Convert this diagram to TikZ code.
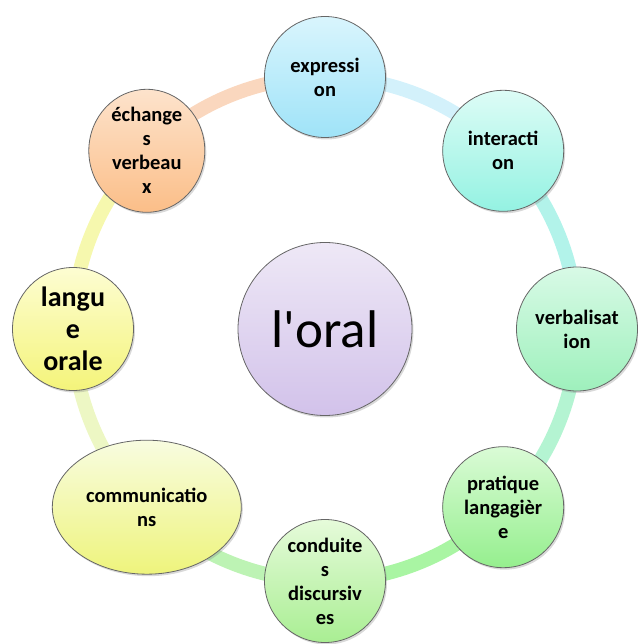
\documentclass[tikz,border=0pt]{standalone}
\usepackage{fontspec}
\setmainfont{Carlito}
\usetikzlibrary{shapes.geometric,shadows,backgrounds}

\definecolor{oralhaut}{HTML}{EEE8F6}
\definecolor{oralbas}{HTML}{D2C2EA}
\definecolor{exphaut}{HTML}{D9F5FD}
\definecolor{expbas}{HTML}{9FE3F8}
\definecolor{inthaut}{HTML}{DDFCF6}
\definecolor{intbas}{HTML}{94F2E2}
\definecolor{verbhaut}{HTML}{D8FAE6}
\definecolor{verbbas}{HTML}{9EF0BC}
\definecolor{prathaut}{HTML}{DAFBD6}
\definecolor{pratbas}{HTML}{95EF8E}
\definecolor{condhaut}{HTML}{E6FBDA}
\definecolor{condbas}{HTML}{A9EE93}
\definecolor{commhaut}{HTML}{F8FCE0}
\definecolor{commbas}{HTML}{EEF47C}
\definecolor{languehaut}{HTML}{FDFDD2}
\definecolor{languebas}{HTML}{F4F47A}
\definecolor{echhaut}{HTML}{FDE3CC}
\definecolor{echbas}{HTML}{FBBE88}

\begin{document}
\begin{tikzpicture}[x=1pt,y=1pt,
    bulle/.style={ellipse, draw=black!60, line width=0.8pt, inner sep=0pt,
      align=center, minimum width=121pt, minimum height=121pt,
      font=\bfseries\fontsize{20.5}{24}\selectfont,
      drop shadow={opacity=0.3, shadow xshift=1.5pt, shadow yshift=-2pt}},
    anneau/.style={line width=14pt}]
  \useasboundingbox (-325,-315) rectangle (312,329);
  \node [bulle, minimum width=174pt, minimum height=173pt,
    top color=oralhaut, bottom color=oralbas,
    font=\fontsize{53}{60}\selectfont] (oral) at (0,0) {l\textquotesingle oral};
  \node [bulle, top color=exphaut, bottom color=expbas] (expression) at (90:252) {expressi\\on};
  \node [bulle, top color=inthaut, bottom color=intbas] (interaction) at (45:252) {interacti\\on};
  \node [bulle, minimum height=124pt, top color=verbhaut, bottom color=verbbas] (verbalisation) at (0:252) {verbalisat\\ion};
  \node [bulle, top color=prathaut, bottom color=pratbas] (pratique) at (-45:252) {pratique\\langagièr\\e};
  \node [bulle, minimum height=123pt, top color=condhaut, bottom color=condbas] (conduites) at (-90:252) {conduite\\s\\discursiv\\es};
  \node [bulle, minimum width=189pt, minimum height=134pt,
    top color=commhaut, bottom color=commbas] (communications) at (-135:252) {communicatio\\ns};
  \node [bulle, minimum height=123pt, top color=languehaut, bottom color=languebas,
    font=\bfseries\fontsize{28}{32}\selectfont] (langue) at (180:252) {langu\\e\\orale};
  \node [bulle, minimum width=116pt, minimum height=123pt,
    top color=echhaut, bottom color=echbas] (echanges) at (135:252) {échange\\s\\verbeau\\x};
  \begin{scope}[on background layer]
    \draw [anneau, color={rgb,255:red,250;green,215;blue,190}] (echanges.center) arc [radius=252, start angle=135, end angle=90];
    \draw [anneau, color={rgb,255:red,211;green,241;blue,251}] (expression.center) arc [radius=252, start angle=90, end angle=45];
    \draw [anneau, color={rgb,255:red,178;green,243;blue,234}] (interaction.center) arc [radius=252, start angle=45, end angle=0];
    \draw [anneau, color={rgb,255:red,180;green,244;blue,210}] (verbalisation.center) arc [radius=252, start angle=0, end angle=-45];
    \draw [anneau, color={rgb,255:red,169;green,245;blue,163}] (pratique.center) arc [radius=252, start angle=-45, end angle=-90];
    \draw [anneau, color={rgb,255:red,189;green,243;blue,180}] (conduites.center) arc [radius=252, start angle=-90, end angle=-135];
    \draw [anneau, color={rgb,255:red,237;green,247;blue,196}] (communications.center) arc [radius=252, start angle=-135, end angle=-180];
    \draw [anneau, color={rgb,255:red,246;green,248;blue,174}] (langue.center) arc [radius=252, start angle=180, end angle=135];
  \end{scope}
\end{tikzpicture}
\end{document}
